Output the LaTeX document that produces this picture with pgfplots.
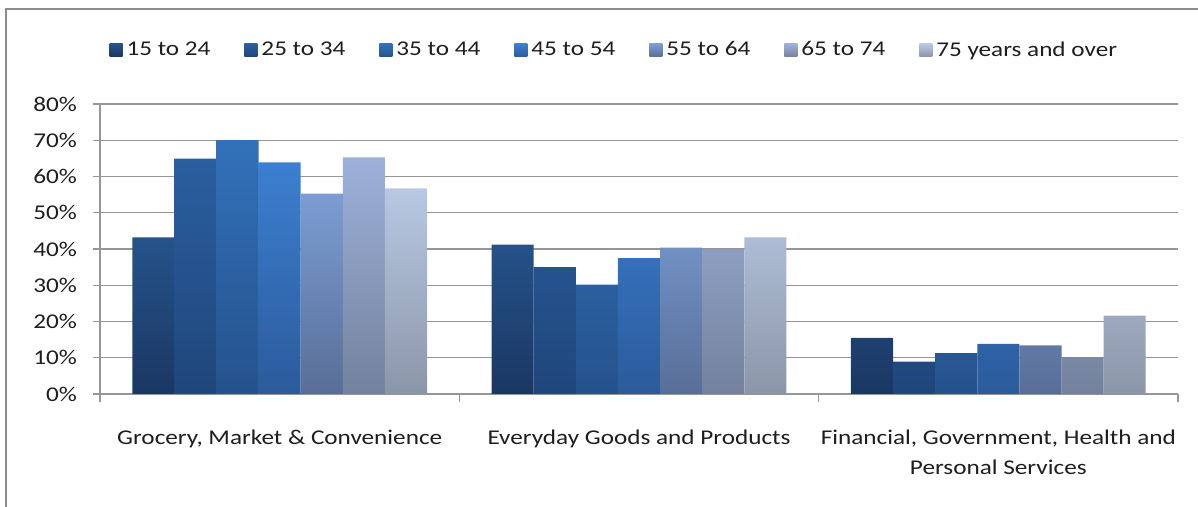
\documentclass[border=0pt]{standalone}
\usepackage{fontspec}
\setmainfont{Carlito}[FakeStretch=1.2]
\usepackage{pgfplots}
\pgfplotsset{compat=1.18}
\definecolor{cAt}{RGB}{37,83,139}\definecolor{cAb}{RGB}{27,55,98}
\definecolor{cBt}{RGB}{43,94,159}\definecolor{cBb}{RGB}{31,70,123}
\definecolor{cCt}{RGB}{50,113,186}\definecolor{cCb}{RGB}{37,82,140}
\definecolor{cDt}{RGB}{60,127,208}\definecolor{cDb}{RGB}{43,91,155}
\definecolor{cEt}{RGB}{123,157,211}\definecolor{cEb}{RGB}{88,110,151}
\definecolor{cFt}{RGB}{157,177,218}\definecolor{cFb}{RGB}{115,129,156}
\definecolor{cGt}{RGB}{185,200,227}\definecolor{cGb}{RGB}{138,150,168}
\definecolor{gridc}{RGB}{150,150,150}
\definecolor{framec}{RGB}{140,140,140}
\definecolor{txt}{RGB}{30,30,30}
\begin{document}
\begin{tikzpicture}[x=1pt,y=1pt]
\useasboundingbox (0,0) rectangle (599,253.5);
\draw[framec, line width=1.2pt] (3,0) -- (3,249) -- (599,249);
\begin{axis}[
  at={(50pt,56.5pt)}, anchor=south west,
  scale only axis, width=539pt, height=145pt,
  xmin=-0.5, xmax=2.5, ymin=0, ymax=80,
  ybar=0pt, bar width=0.1172,
  axis lines*=left, axis line style={-, draw=gridc, line width=0.7pt},
  tick align=outside, major tick length=3.5pt,
  tick style={draw=gridc, line width=0.7pt},
  xtick={0,1,2},
  xticklabels={{Grocery, Market \& Convenience},{Everyday Goods and Products},{Financial, Government, Health and\\Personal Services}},
  xtick style={draw=none},
  extra x ticks={-0.5,0.5,1.5,2.5}, extra x tick labels={},
  extra x tick style={xtick style={draw=gridc}, major tick length=4pt},
  xticklabel style={align=center, yshift=-11pt},
  ytick={0,10,...,80},
  yticklabels={0\%,10\%,20\%,30\%,40\%,50\%,60\%,70\%,80\%},
  yticklabel style={xshift=-4.5pt},
  ymajorgrids, grid style={draw=gridc, line width=0.7pt},
  tick label style={font=\fontsize{10.5}{15}\selectfont, text=txt},
  legend columns=7,
  legend style={at={(0.478,1.185)}, anchor=center, draw=none, fill=none,
    font=\fontsize{10.5}{15}\selectfont, text=txt,
    /tikz/every even column/.append style={column sep=15pt}},
  legend image code/.code={\path[#1] (-2pt,-3.2pt) rectangle (4.5pt,3.2pt);},
]
\addplot[draw=none, top color=cAt, bottom color=cAb] coordinates {(0,43.2) (1,41.2) (2,15.5)};
\addplot[draw=none, top color=cBt, bottom color=cBb] coordinates {(0,64.9) (1,35.0) (2,8.9)};
\addplot[draw=none, top color=cCt, bottom color=cCb] coordinates {(0,70.0) (1,30.2) (2,11.3)};
\addplot[draw=none, top color=cDt, bottom color=cDb] coordinates {(0,63.9) (1,37.5) (2,13.8)};
\addplot[draw=none, top color=cEt, bottom color=cEb] coordinates {(0,55.3) (1,40.4) (2,13.4)};
\addplot[draw=none, top color=cFt, bottom color=cFb] coordinates {(0,65.3) (1,39.9) (2,10.2)};
\addplot[draw=none, top color=cGt, bottom color=cGb] coordinates {(0,56.7) (1,43.2) (2,21.6)};
\legend{15 to 24,25 to 34,35 to 44,45 to 54,55 to 64,65 to 74,75 years and over}
\end{axis}
\end{tikzpicture}
\end{document}
